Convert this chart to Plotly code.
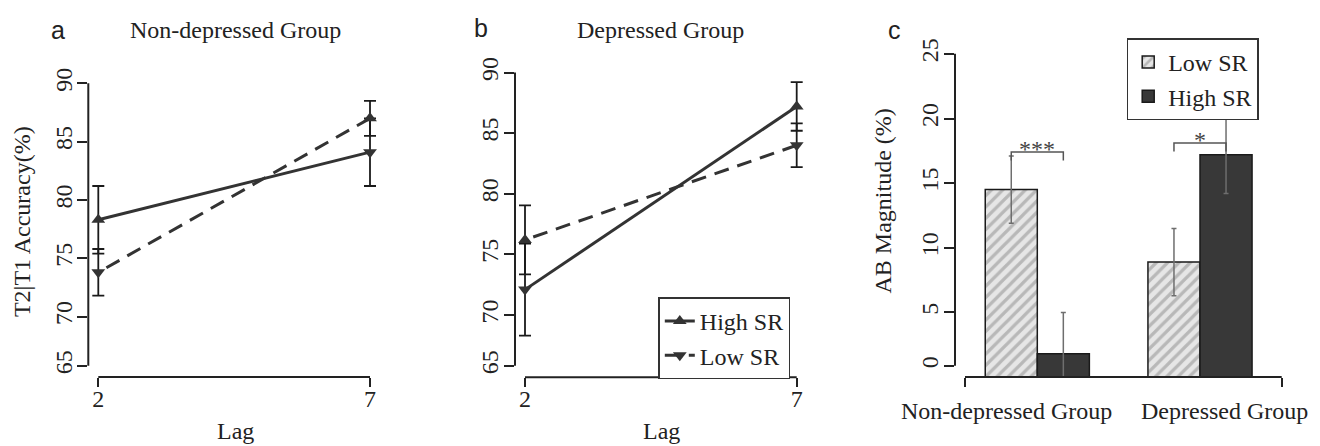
import plotly.graph_objects as go

W, H = 1320, 446

# ---------------- data ----------------
lags = [2, 7]
lag_labels = ["2", "7"]
acc_ticks = [65, 70, 75, 80, 85, 90]
acc_labels = ["65", "70", "75", "80", "85", "90"]

# Panel a: Non-depressed group (solid / dashed lines, marker per point)
a_solid_acc = [78.3, 84.1]
a_solid_se = [2.9, 2.9]
a_solid_sym = ["triangle-up", "triangle-down"]
a_dashed_acc = [73.8, 87.0]
a_dashed_se = [2.0, 1.5]
a_dashed_sym = ["triangle-down", "triangle-up"]

# Panel b: Depressed group
b_solid_acc = [72.1, 87.2]
b_solid_se = [3.8, 2.0]
b_solid_sym = ["triangle-down", "triangle-up"]
b_dashed_acc = [76.2, 84.0]
b_dashed_se = [2.85, 1.8]
b_dashed_sym = ["triangle-up", "triangle-down"]

# Panel c: AB magnitude
groups = ["Non-depressed Group", "Depressed Group"]
low_sr_ab = [14.5, 8.9]
low_sr_se = [2.6, 2.6]
high_sr_ab = [1.8, 17.2]
high_sr_se = [3.2, 3.0]
ab_ticks = [0, 5, 10, 15, 20, 25]
ab_labels = ["0", "5", "10", "15", "20", "25"]
sig_labels = ["***", "*"]
sig_heights = [17.4, 18.1]

# ---------------- styling ----------------
SERIF = "Liberation Serif"
SANS = "Liberation Sans"
FS = 24
INK = "#222222"
LINEC = "#333333"


def px(x):
    return x / W


def py(y):
    return 1 - y / H


def lin(v1, p1, v2, p2):
    s = (p2 - p1) / (v2 - v1)
    return lambda p: v1 + (p - p1) / s, s


BOTTOM_TICK_PX = 364.3

panels = {
    "a": dict(xd=(88.3, 380), xc=(2, 98.3, 7, 370), yd=(69, 375.7), yc=(90, 76.7, 70, 314.3)),
    "b": dict(xd=(515, 807), xc=(2, 525, 7, 796.7), yd=(58, 376), yc=(90, 65.7, 70, 312.7)),
    "c": dict(xd=(955, 1290), xc=(0, 1037.3, 1, 1200), yd=(38, 375.8), yc=(25, 46.7, 5, 310)),
}

fig = go.Figure()
layout = dict(
    width=W, height=H, margin=dict(l=0, r=0, t=0, b=0),
    paper_bgcolor="white", plot_bgcolor="white",
    font=dict(family=SERIF, size=FS, color=INK),
    barmode="group", bargap=0.36, bargroupgap=0,
    shapes=[], annotations=[],
)

axis_ids = {"a": ("x", "y"), "b": ("x2", "y2"), "c": ("x3", "y3")}

for key, p in panels.items():
    xa, ya = axis_ids[key]
    fx, _ = lin(*p["xc"])
    fy, _ = lin(*p["yc"])
    xr = [fx(p["xd"][0]), fx(p["xd"][1])]
    yr = [fy(p["yd"][1]), fy(p["yd"][0])]
    if key == "c":
        ticks, labels = ab_ticks, ab_labels
    else:
        ticks, labels = acc_ticks, acc_labels
    tickpos = [fy(BOTTOM_TICK_PX)] + ticks[1:]
    xname = "xaxis" + xa[1:]
    yname = "yaxis" + ya[1:]
    layout[yname] = dict(
        domain=[py(p["yd"][1]), py(p["yd"][0])], range=yr, anchor=xa,
        showgrid=False, zeroline=False, showline=False,
        ticks="outside", ticklen=10, tickwidth=2, tickcolor=INK,
        tickvals=tickpos, ticktext=labels, tickangle=-90,
        tickfont=dict(family=SERIF, size=FS, color=INK), ticklabelstandoff=-4,
    )
    if key == "c":
        x_end = [fx(965), fx(1281.7)]
        xt, xtt = x_end, ["", ""]
    else:
        x_end = lags
        xt, xtt = lags, lag_labels
    layout[xname] = dict(
        domain=[px(p["xd"][0]), px(p["xd"][1])], range=xr, anchor=ya,
        showgrid=False, zeroline=False, showline=False,
        ticks="outside", ticklen=9, tickwidth=2, tickcolor=INK,
        tickvals=xt, ticktext=xtt, ticklabelstandoff=-9,
        tickfont=dict(family=SERIF, size=FS, color=INK),
    )
    layout["shapes"].append(dict(type="line", xref=xa + " domain", yref=ya,
                                 x0=0, x1=0, y0=tickpos[0], y1=ticks[-1],
                                 line=dict(color=INK, width=2)))
    layout["shapes"].append(dict(type="line", xref=xa, yref=ya + " domain",
                                 x0=x_end[0], x1=x_end[-1], y0=0, y1=0,
                                 line=dict(color=INK, width=2)))


def line_traces(solid, solid_se, solid_sym, dashed, dashed_se, dashed_sym, xa, ya, show):
    out = []
    for y, se, sym, dash, name in [
        (solid, solid_se, solid_sym, "solid", "High SR"),
        (dashed, dashed_se, dashed_sym, "15px,9px", "Low SR"),
    ]:
        out.append(go.Scatter(
            x=lags[::-1], y=y[::-1], mode="lines+markers", name=name,
            line=dict(color=LINEC, width=3, dash=dash),
            marker=dict(symbol=sym[::-1], size=12, color=LINEC),
            error_y=dict(type="data", array=se[::-1], color="#1a1a1a", thickness=1.8, width=6),
            xaxis=xa, yaxis=ya, showlegend=show, legend="legend",
        ))
    return out


for t in line_traces(a_solid_acc, a_solid_se, a_solid_sym, a_dashed_acc, a_dashed_se, a_dashed_sym, "x", "y", False):
    fig.add_trace(t)
for t in line_traces(b_solid_acc, b_solid_se, b_solid_sym, b_dashed_acc, b_dashed_se, b_dashed_sym, "x2", "y2", True):
    fig.add_trace(t)

gx = list(range(len(groups)))
fig.add_trace(go.Bar(
    x=gx, y=low_sr_ab, name="Low SR", xaxis="x3", yaxis="y3", legend="legend2",
    marker=dict(color="#e6e6e6", line=dict(color="#1a1a1a", width=1.5),
                pattern=dict(shape="/", fgcolor="#8a8a8a", size=8, solidity=0.4, fillmode="overlay")),
    error_y=dict(type="data", array=low_sr_se, color="#6e6e6e", thickness=1.5, width=2.5),
))
fig.add_trace(go.Bar(
    x=gx, y=high_sr_ab, name="High SR", xaxis="x3", yaxis="y3", legend="legend2",
    marker=dict(color="#383838", line=dict(color="#1a1a1a", width=1.5)),
    error_y=dict(type="data", array=high_sr_se, color="#6e6e6e", thickness=1.5, width=2.5),
))

half = (1 - 0.36) / 4
for i, (lab, h) in enumerate(zip(sig_labels, sig_heights)):
    xl, xr_ = gx[i] - half, gx[i] + half
    leg = 0.65
    layout["shapes"].append(dict(type="path", xref="x3", yref="y3",
                                 path=f"M{xl},{h - leg} L{xl},{h} L{xr_},{h} L{xr_},{h - leg}",
                                 line=dict(color="#555555", width=1.5)))
    layout["annotations"].append(dict(x=(xl + xr_) / 2, y=h, xref="x3", yref="y3",
                                      text=lab, showarrow=False, yanchor="middle", yshift=3,
                                      font=dict(family=SERIF, size=FS, color="#444444")))

cat_shift = [-31, 24]
for i, g in enumerate(groups):
    layout["annotations"].append(dict(x=gx[i], y=py(410), xref="x3", yref="paper", text=g,
                                      showarrow=False, xshift=cat_shift[i], yanchor="middle",
                                      font=dict(family=SERIF, size=FS, color=INK)))


def ann(text, x, y, size=FS, family=SERIF, angle=0):
    layout["annotations"].append(dict(x=px(x), y=py(y), xref="paper", yref="paper", text=text,
                                      showarrow=False, textangle=angle,
                                      xanchor="center", yanchor="middle",
                                      font=dict(family=family, size=size, color=INK)))


ann("a", 58, 22, size=25, family=SANS)
ann("b", 481, 20, size=25, family=SANS)
ann("c", 895, 22, size=25, family=SANS)
ann("Non-depressed Group", 235, 22)
ann("Depressed Group", 660, 22)
ann("Lag", 235, 431)
ann("Lag", 661, 431)
ann("T2|T1 Accuracy(%)", 22, 218, angle=-90)
ann("AB Magnitude (%)", 883, 197, angle=-90)

layout["legend"] = dict(x=px(658.3), y=py(336.4), xanchor="left", yanchor="middle",
                        bgcolor="white", bordercolor="#333333", borderwidth=1.5,
                        font=dict(family=SERIF, size=FS, color=INK))
layout["legend2"] = dict(x=px(1126.7), y=py(31), xanchor="left", yanchor="top",
                         bgcolor="white", bordercolor="#333333", borderwidth=1.5,
                         font=dict(family=SERIF, size=FS, color=INK))

fig.update_layout(**layout)
fig.write_html("out.html")
